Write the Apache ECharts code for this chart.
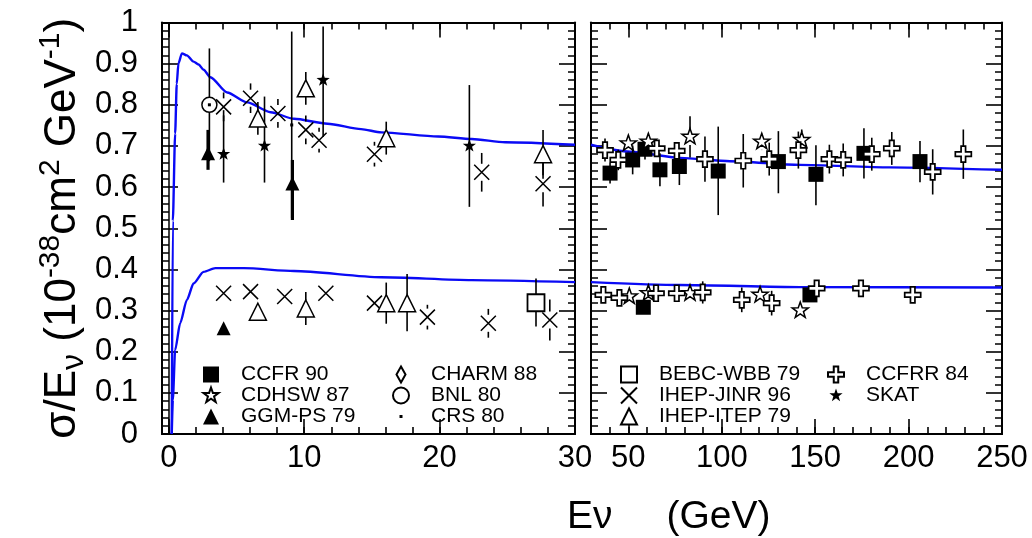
<!DOCTYPE html>
<html>
<head>
<meta charset="utf-8">
<script src="https://cdn.jsdelivr.net/npm/echarts@6/dist/echarts.min.js"></script>
<style>
  html, body { margin: 0; padding: 0; background: #fff; }
  #chart { width: 1032px; height: 538px; }
</style>
</head>
<body>
<div id="chart"></div>
<script>
// sigma/E for charged-current nu (upper band) and nubar (lower band) scattering.
// Each measurement row: [E (GeV), sigma/E, lower edge, upper edge]

// Prediction curves [E, sigma/E]
const nuCurve = [
  [0.22, 0], [0.30, 0.518], [0.47, 0.73], [0.59, 0.851], [0.71, 0.90], [0.97, 0.925],
  [1.34, 0.92], [1.83, 0.905], [2.2, 0.898], [2.57, 0.885], [3.07, 0.867], [4.31, 0.83],
  [5.79, 0.806], [7.52, 0.782], [9.25, 0.766], [11.73, 0.754], [14.2, 0.741], [15.69, 0.733],
  [19.9, 0.723], [22.37, 0.717], [24.84, 0.709], [30, 0.703],
  [50.9, 0.686], [77.6, 0.671], [104.4, 0.663], [141.9, 0.654], [190, 0.648], [250, 0.642]
];
const nubarCurve = [
  [0.22, 0], [0.30, 0.083], [0.47, 0.204], [0.84, 0.269], [1.34, 0.326], [1.83, 0.366],
  [2.57, 0.394], [3.44, 0.403], [5.54, 0.403], [9.25, 0.396], [15.69, 0.381], [22.37, 0.374],
  [30, 0.369], [77.6, 0.362], [141.9, 0.357], [250, 0.356]
];

const ccfr90 = [
  [40.2, 0.634, 0.609, 0.659], [52.3, 0.666, 0.631, 0.701], [58.9, 0.692, 0.667, 0.717],
  [66.9, 0.642, 0.602, 0.682], [77.3, 0.650, 0.605, 0.695], [98.1, 0.639, 0.532, 0.747],
  [130.3, 0.662, 0.585, 0.736], [150.4, 0.631, 0.556, 0.702], [176.1, 0.682, 0.621, 0.743],
  [206.1, 0.662, 0.612, 0.712],
  [58.0, 0.308, 0.295, 0.321], [147.2, 0.338, 0.325, 0.351]
];
const cdhsw87 = [
  [50.0, 0.706, 0.686, 0.726], [60.7, 0.710, 0.690, 0.730], [83.0, 0.722, 0.672, 0.772],
  [121.4, 0.710, 0.690, 0.730], [142.8, 0.714, 0.690, 0.740],
  [50.5, 0.334, 0.320, 0.348], [60.7, 0.342, 0.330, 0.354], [83.0, 0.342, 0.330, 0.354],
  [120.5, 0.338, 0.325, 0.351], [142.0, 0.300, 0.285, 0.315]
];
const ggmps79 = [
  [2.9, 0.682, 0.642, 0.739], [9.13, 0.609, 0.520, 0.666], [4.05, 0.257, 0.257, 0.257]
];
const charm88 = [];
const bnl80 = [
  [3.0, 0.800, 0.663, 0.937]
];
const crs80 = [
  [9.08, 0.751, 0.524, 0.978], [3.0, 0.800, 0.800, 0.800]
];
const bebcWbb79 = [
  [27.12, 0.319, 0.261, 0.378]
];
const ihepJinr96 = [
  [4.05, 0.795, 0.760, 0.830], [6.04, 0.816, 0.780, 0.852], [8.06, 0.779, 0.744, 0.814],
  [10.12, 0.739, 0.704, 0.774], [11.1, 0.714, 0.684, 0.744], [15.19, 0.680, 0.650, 0.710],
  [23.11, 0.636, 0.589, 0.683], [27.64, 0.608, 0.553, 0.663],
  [4.05, 0.342, 0.322, 0.362], [6.04, 0.346, 0.326, 0.366], [8.56, 0.334, 0.319, 0.349],
  [11.6, 0.342, 0.322, 0.362], [15.19, 0.318, 0.298, 0.338], [19.1, 0.284, 0.254, 0.314],
  [23.6, 0.269, 0.234, 0.304], [28.14, 0.277, 0.227, 0.327]
];
const ihepItep79 = [
  [6.58, 0.767, 0.727, 0.807], [10.12, 0.840, 0.800, 0.880], [16.06, 0.719, 0.679, 0.759],
  [27.64, 0.680, 0.620, 0.739],
  [6.58, 0.297, 0.287, 0.307], [10.12, 0.305, 0.265, 0.345], [16.06, 0.318, 0.268, 0.368],
  [17.6, 0.318, 0.250, 0.389]
];
const ccfrr84 = [
  [37.5, 0.690, 0.662, 0.718], [44.6, 0.666, 0.641, 0.691], [65.2, 0.694, 0.674, 0.714],
  [75.9, 0.688, 0.668, 0.708], [91.0, 0.668, 0.613, 0.723], [111.5, 0.664, 0.599, 0.729],
  [125.4, 0.668, 0.628, 0.708], [141.0, 0.690, 0.645, 0.735], [157.6, 0.668, 0.633, 0.703],
  [165.0, 0.666, 0.626, 0.706], [180.3, 0.680, 0.640, 0.720], [191.0, 0.694, 0.654, 0.734],
  [212.9, 0.637, 0.582, 0.692], [229.3, 0.680, 0.620, 0.740],
  [36.6, 0.338, 0.325, 0.351], [45.2, 0.331, 0.318, 0.344], [64.8, 0.342, 0.330, 0.354],
  [75.9, 0.342, 0.330, 0.354], [89.8, 0.344, 0.317, 0.371], [110.7, 0.326, 0.296, 0.356],
  [126.7, 0.318, 0.288, 0.348], [150.8, 0.354, 0.342, 0.366], [174.5, 0.354, 0.342, 0.366],
  [202.2, 0.338, 0.326, 0.350]
];
const skat = [
  [4.05, 0.680, 0.611, 0.787], [7.07, 0.700, 0.611, 0.820], [11.4, 0.860, 0.722, 0.990],
  [22.2, 0.700, 0.552, 0.848]
];

// Axis ticks and labels
const lowTicksMajor = [0, 10, 20, 30];
const lowTicksMinor = [0, 2, 4, 6, 8, 10, 12, 14, 16, 18, 20, 22, 24, 26, 28, 30];
const highTicksMajor = [50, 100, 150, 200, 250];
const highTicksMinor = [30, 40, 50, 60, 70, 80, 90, 100, 110, 120, 130, 140, 150, 160, 170, 180, 190, 200, 210, 220, 230, 240, 250];
const panelSplitE = 30;

const FONT = '"Liberation Sans", Arial, Helvetica, sans-serif';

// Marker shapes
function starPath(pad) {
  let d = 'M' + (-pad) + ',' + (-pad) + 'M' + pad + ',' + pad;
  for (let i = 0; i < 10; i++) {
    const r = i % 2 ? 0.4 : 1;
    const a = -Math.PI / 2 + i * Math.PI / 5;
    d += (i ? 'L' : 'M') + (r * Math.cos(a)).toFixed(4) + ',' + (r * Math.sin(a)).toFixed(4);
  }
  return 'path://' + d + 'Z';
}
const SYM_X = 'path://M0,0L10,10M10,0L0,10';
const SYM_PLUS = 'path://M3.6,0H6.4V3.6H10V6.4H6.4V10H3.6V6.4H0V3.6H3.6Z';
const SYM_DOT = 'path://M0,0M16,16M6.5,6.5H9.5V9.5H6.5Z';
const SYM_DIAMOND = 'path://M0,0M16,16M8,0L12.5,8L8,16L3.5,8Z';

const OPEN = { color: '#fff', borderColor: '#000', borderWidth: 1.5 };
const FILLED = { color: '#000', borderWidth: 0 };

const experiments = [
  { name: 'CCFR 90', data: ccfr90, symbol: 'rect', size: 15, style: FILLED, gap: 0, lw: 1.6 },
  { name: 'CDHSW 87', data: cdhsw87, symbol: starPath(1), size: 17, style: OPEN, gap: 8, lw: 1.6 },
  { name: 'GGM-PS 79', data: ggmps79, symbol: 'triangle', size: 14, style: FILLED, gap: 0, lw: 3.2 },
  { name: 'CHARM 88', data: charm88, symbol: SYM_DIAMOND, size: 16, style: { color: '#fff', borderColor: '#000', borderWidth: 1.3 }, gap: 8, lw: 1.6 },
  { name: 'BNL 80', data: bnl80, symbol: 'circle', size: 15, style: OPEN, gap: 7.5, lw: 1.6 },
  { name: 'CRS 80', data: crs80, symbol: SYM_DOT, size: 16, style: FILLED, gap: 0, lw: 1.6 },
  { name: 'BEBC-WBB 79', data: bebcWbb79, symbol: 'rect', size: 17, style: { color: '#fff', borderColor: '#000', borderWidth: 1.8 }, gap: 8.5, lw: 1.6 },
  { name: 'IHEP-JINR 96', data: ihepJinr96, symbol: SYM_X, size: 15, style: { color: 'rgba(0,0,0,0)', borderColor: '#000', borderWidth: 1.5 }, gap: 8.5, lw: 1.6 },
  { name: 'IHEP-ITEP 79', data: ihepItep79, symbol: 'triangle', size: 17, style: OPEN, gap: 8.5, lw: 1.6 },
  { name: 'CCFRR 84', data: ccfrr84, symbol: SYM_PLUS, size: 16, style: { color: '#fff', borderColor: '#000', borderWidth: 1.7 }, gap: 8, lw: 1.6 },
  { name: 'SKAT', data: skat, symbol: starPath(1.15), size: 16, style: FILLED, gap: 0, lw: 1.6 }
];

// Axes: per panel, bottom (major + minor) and top (major + minor) x axes, left/right y axes
function xAxis(grid, pos, min, max, ticks, len, labels) {
  return {
    type: 'value', gridIndex: grid, position: pos, min: min, max: max,
    axisLine: { show: true, onZero: false, lineStyle: { color: '#000', width: 2 } },
    axisTick: { show: true, inside: true, length: len, customValues: ticks, lineStyle: { color: '#000', width: 1.6 } },
    axisLabel: labels ? {
      show: true, customValues: labels, showMinLabel: true, showMaxLabel: true,
      fontSize: 31, fontFamily: FONT, color: '#000', margin: 9
    } : { show: false },
    splitLine: { show: false }
  };
}
function yAxis(grid, pos, withLabels) {
  return {
    type: 'value', gridIndex: grid, position: pos, min: 0, max: 1, interval: 0.1,
    axisLine: { show: true, onZero: false, lineStyle: { color: '#000', width: 2 } },
    axisTick: { show: true, inside: true, length: 16, lineStyle: { color: '#000', width: 1.6 } },
    minorTick: { show: true, splitNumber: 5, length: 7, lineStyle: { color: '#000', width: 1.5 } },
    axisLabel: withLabels ? {
      show: true, fontSize: 31, fontFamily: FONT, color: '#000', margin: 24,
      formatter: v => String(Math.round(v * 10) / 10)
    } : { show: false },
    splitLine: { show: false }, minorSplitLine: { show: false }
  };
}

const xAxes = [
  xAxis(0, 'bottom', -0.5, 30, lowTicksMajor, 15, lowTicksMajor),
  xAxis(0, 'bottom', -0.5, 30, lowTicksMinor, 7, null),
  xAxis(0, 'top', -0.5, 30, lowTicksMajor, 15, null),
  xAxis(0, 'top', -0.5, 30, lowTicksMinor, 7, null),
  xAxis(1, 'bottom', 30, 250, highTicksMajor, 15, highTicksMajor),
  xAxis(1, 'bottom', 30, 250, highTicksMinor, 7, null),
  xAxis(1, 'top', 30, 250, highTicksMajor, 15, null),
  xAxis(1, 'top', 30, 250, highTicksMinor, 7, null)
];
const yAxes = [yAxis(0, 'left', true), yAxis(0, 'right', false), yAxis(1, 'left', false), yAxis(1, 'right', false)];
yAxes[0].name = '{a|σ/E}{sub|ν}{a| (10}{sup|-38}{a|cm}{sup|2}{a| GeV}{sup|-1}{a|)}';
yAxes[0].nameLocation = 'middle';
yAxes[0].nameRotate = 90;
yAxes[0].nameGap = 72;
yAxes[0].nameTextStyle = {
  color: '#000', fontFamily: FONT,
  rich: {
    a: { fontSize: 44, lineHeight: 54, fontFamily: FONT, color: '#000' },
    sup: { fontSize: 30, lineHeight: 24, verticalAlign: 'top', fontFamily: FONT, color: '#000' },
    sub: { fontSize: 32, lineHeight: 26, verticalAlign: 'bottom', fontFamily: FONT, color: '#000' }
  }
};

const panels = [
  { xi: 0, yi: 0, keep: e => e <= panelSplitE },
  { xi: 4, yi: 2, keep: e => e >= panelSplitE }
];

const series = [];

// Prediction curves
panels.forEach((p, pi) => {
  [nuCurve, nubarCurve].forEach((curve, ci) => {
    const s = {
      type: 'line', xAxisIndex: p.xi, yAxisIndex: p.yi, z: 2,
      data: curve.filter(d => p.keep(d[0])),
      showSymbol: false, symbol: 'none', smooth: 0.25, smoothMonotone: 'x',
      lineStyle: { color: '#0a0af5', width: 2.4 }, silent: true
    };
    if (pi === 0 && ci === 1) {
      s.markLine = {
        silent: true, symbol: 'none', label: { show: false }, animation: false,
        lineStyle: { color: '#000', width: 1.5, type: 'solid' },
        data: [{ xAxis: 0 }]
      };
    }
    series.push(s);
  });
});

// Measurements: error bars (custom) beneath markers (scatter)
experiments.forEach(ex => {
  panels.forEach((p, pi) => {
    const pts = ex.data.filter(d => (pi === 0 ? d[0] <= panelSplitE : d[0] > panelSplitE));
    if (pts.length === 0 && pi === 1) return;
    series.push({
      type: 'custom', xAxisIndex: p.xi, yAxisIndex: p.yi, z: 3, silent: true,
      data: pts.map(d => [d[0], d[1], d[2], d[3]]),
      encode: { x: 0, y: 1 },
      renderItem: (params, api) => {
        const x = api.value(0), y = api.value(1), lo = api.value(2), hi = api.value(3);
        const c = api.coord([x, y]), cl = api.coord([x, lo]), ch = api.coord([x, hi]);
        const segs = [];
        if (ch[1] < c[1] - ex.gap) segs.push([ch[1], c[1] - ex.gap]);
        if (cl[1] > c[1] + ex.gap) segs.push([c[1] + ex.gap, cl[1]]);
        return {
          type: 'group',
          children: segs.map(s => ({
            type: 'line',
            shape: { x1: c[0], y1: s[0], x2: c[0], y2: s[1] },
            style: { stroke: '#000', lineWidth: ex.lw }
          }))
        };
      }
    });
    series.push({
      type: 'scatter', name: ex.name, xAxisIndex: p.xi, yAxisIndex: p.yi, z: 5,
      data: pts.map(d => [d[0], d[1]]),
      symbol: ex.symbol, symbolSize: ex.size,
      itemStyle: Object.assign({ opacity: 1 }, ex.style),
      silent: true
    });
  });
});

const legendCommon = {
  orient: 'vertical', itemWidth: 16, itemHeight: 16, itemGap: 0, padding: 0,
  selectedMode: false,
  textStyle: { fontSize: 21, fontFamily: FONT, color: '#000', padding: [0, 0, 0, 17], lineHeight: 17 }
};

const option = {
  animation: false,
  backgroundColor: '#fff',
  grid: [
    { left: 162, top: 22.5, width: 413, height: 411.5 },
    { left: 591, top: 22.5, width: 411, height: 411.5 }
  ],
  title: {
    text: '{e|Eν}{g|(GeV)}', left: 567, top: 498, padding: 0,
    textStyle: {
      fontWeight: 'normal',
      rich: {
        e: { fontSize: 39, fontFamily: FONT, fontWeight: 'normal', color: '#000' },
        g: { fontSize: 39, fontFamily: FONT, fontWeight: 'normal', color: '#000', padding: [0, 0, 0, 54] }
      }
    }
  },
  xAxis: xAxes,
  yAxis: yAxes,
  legend: [
    Object.assign({ data: ['CCFR 90', 'CDHSW 87', 'GGM-PS 79'], left: 202, top: 364 }, legendCommon),
    Object.assign({ data: ['CHARM 88', 'BNL 80', 'CRS 80'], left: 392, top: 364 }, legendCommon),
    Object.assign({ data: ['BEBC-WBB 79', 'IHEP-JINR 96', 'IHEP-ITEP 79'], left: 620, top: 364 }, legendCommon),
    Object.assign({ data: ['CCFRR 84', 'SKAT'], left: 827, top: 364 }, legendCommon)
  ],
  series: series
};

const chart = echarts.init(document.getElementById('chart'), null, { renderer: 'canvas' });
chart.setOption(option);
</script>
</body>
</html>
